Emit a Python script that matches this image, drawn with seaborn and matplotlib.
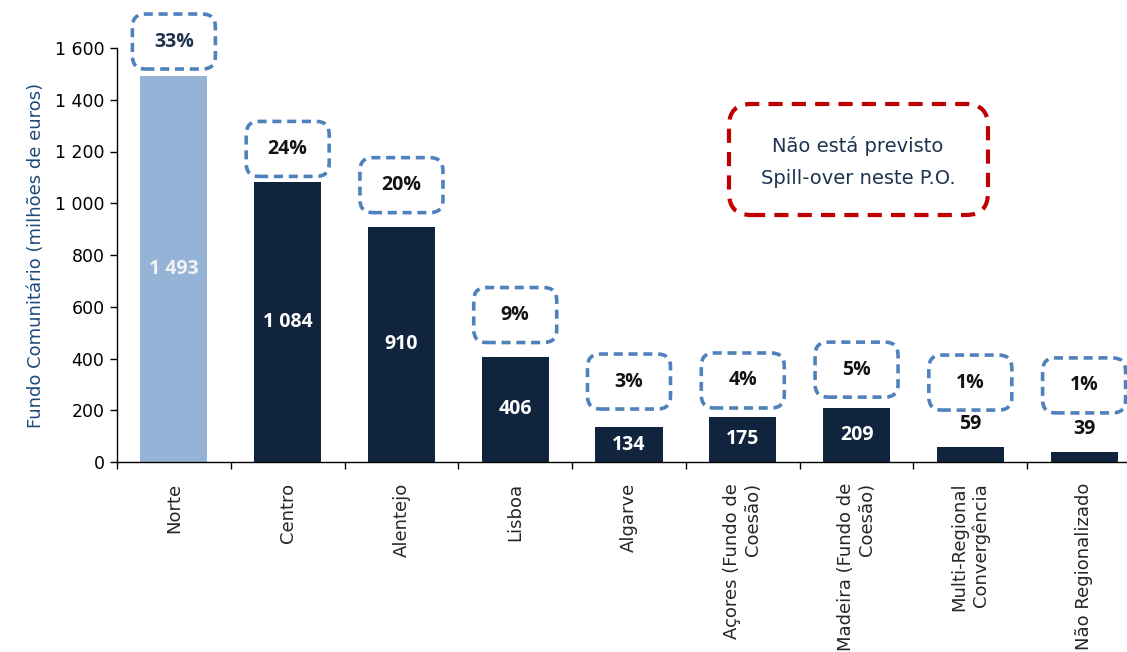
import matplotlib
matplotlib.use("Agg")
import matplotlib.pyplot as plt
import matplotlib.transforms as mtransforms
from matplotlib.patches import FancyBboxPatch
from matplotlib.ticker import FuncFormatter, FixedLocator
import seaborn as sns
import pandas as pd

# --- data -------------------------------------------------------------
regions = [
    "Norte", "Centro", "Alentejo", "Lisboa", "Algarve",
    "Açores (Fundo de\nCoesão)", "Madeira (Fundo de\nCoesão)",
    "Multi-Regional\nConvergência", "Não Regionalizado",
]
fund_values = [1493, 1084, 910, 406, 134, 175, 209, 59, 39]
share_pct = [33, 24, 20, 9, 3, 4, 5, 1, 1]
y_ticks = [0, 200, 400, 600, 800, 1000, 1200, 1400, 1600]

# --- layout / style ---------------------------------------------------
share_box_y = [1625, 1210, 1070, 568, 311, 315, 357, 307, 296]  # box centres (data units)
bar_colors = ["#95B3D7"] + ["#10243E"] * 8
BOX_BLUE = "#4F81BD"
BOX_RED = "#C00000"
NAVY_TEXT = "#1F3350"

sns.set_style("ticks")
plt.rcParams["font.family"] = ["DejaVu Sans"]

W, H, DPI = 1127, 652, 100
fig = plt.figure(figsize=(W / DPI, H / DPI), dpi=DPI)
ax = fig.add_axes([117 / W, 1 - 462 / H, (1141 - 117) / W, (462 - 48) / H])

df = pd.DataFrame({"regiao": regions, "valor": fund_values})
sns.barplot(data=df, x="regiao", y="valor", hue="regiao", palette=bar_colors,
            width=0.59, saturation=1, legend=False, ax=ax, edgecolor="none")

ax.set_xlim(-0.5, len(regions) - 0.5)
ax.set_ylim(0, 1600)
ax.yaxis.set_major_locator(FixedLocator(y_ticks))
ax.yaxis.set_major_formatter(FuncFormatter(lambda v, p: f"{v:,.0f}".replace(",", " ")))
ax.tick_params(axis="y", labelsize=12.5, length=5, width=1, color="black",
               labelcolor="black", pad=4)

# category labels at bar centres, tick marks between categories
ax.set_xticks(range(len(regions)))
ax.set_xticklabels(regions, rotation=90, ha="center", va="top",
                   multialignment="right", fontsize=13)
ax.tick_params(axis="x", which="major", length=0, pad=15)
ax.set_xticks([i - 0.5 for i in range(len(regions) + 1)], minor=True)
ax.tick_params(axis="x", which="minor", length=5, width=1, color="black")

ax.set_xlabel("")
ax.set_ylabel("Fundo Comunitário (milhões de euros)", fontsize=13,
              color="#1F497D", labelpad=7)
sns.despine(ax=ax, top=True, right=True)
for s in ("left", "bottom"):
    ax.spines[s].set_color("black")
    ax.spines[s].set_linewidth(1)

# value labels
label_font = dict(family="Open Sans", fontweight="bold", fontsize=14)
for i, v in enumerate(fund_values):
    if v >= 100:
        col = "#F2F2F2" if i == 0 else "white"
        ax.text(i, v / 2, f"{v:,}".replace(",", " "), ha="center", va="center",
                color=col, **label_font)
    else:
        ax.annotate(f"{v}", (i, v), xytext=(0, 9), textcoords="offset points",
                    ha="center", va="bottom", color="#111111", **label_font)

# dashed rounded boxes with each region's share
bw, bh = 0.83, 0.55
for i, (p, yc) in enumerate(zip(share_pct, share_box_y)):
    tr = fig.dpi_scale_trans + mtransforms.ScaledTranslation(i, yc, ax.transData)
    box = FancyBboxPatch((-bw / 2, -bh / 2), bw, bh,
                         boxstyle="round,pad=0,rounding_size=0.13",
                         transform=tr, facecolor="white", edgecolor=BOX_BLUE,
                         linewidth=2.6, linestyle=(0, (2.5, 1.6)), clip_on=False,
                         zorder=5)
    ax.add_patch(box)
    ax.text(0, 0, f"{p}%", transform=tr, ha="center", va="center",
            color=NAVY_TEXT if i == 0 else "#141414", zorder=6, clip_on=False,
            **label_font)

# note box
note = FancyBboxPatch((7.29, (H - 215) / DPI), 2.59, 1.11,
                      boxstyle="round,pad=0,rounding_size=0.22",
                      transform=fig.dpi_scale_trans, facecolor="none",
                      edgecolor=BOX_RED, linewidth=3.0,
                      linestyle=(0, (3.4, 2.2)))
fig.patches.append(note)
note.set_figure(fig)
fig.text(858 / W, 1 - 146 / H, "Não está previsto", ha="center", va="center",
         fontsize=14, color=NAVY_TEXT)
fig.text(858 / W, 1 - 178 / H, "Spill-over neste P.O.", ha="center", va="center",
         fontsize=14, color=NAVY_TEXT)

fig.savefig("out.png", dpi=DPI, facecolor="white")
